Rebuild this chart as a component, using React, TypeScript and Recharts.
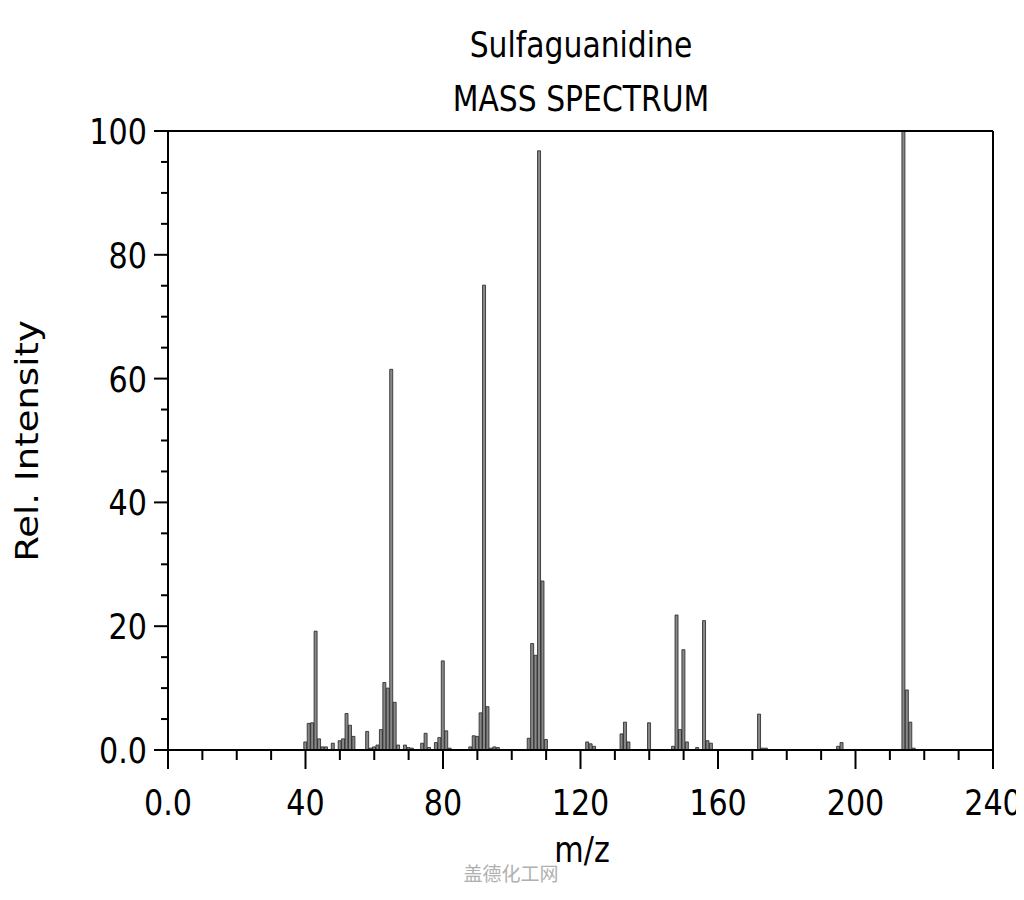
import { Bar, ComposedChart, ReferenceLine, XAxis, YAxis } from 'recharts'

// peaks: m/z and relative intensity
const mzValues = [
  40, 41, 42, 43, 44, 45, 46, 48, 50, 51, 52, 53, 54, 58, 59, 60, 61, 62, 63, 64, 65, 66, 67, 69, 70, 71,
  74, 75, 76, 78, 79, 80, 81, 82, 88, 89, 90, 91, 92, 93, 94, 95, 96, 105, 106, 107, 108, 109, 110,
  122, 123, 124, 132, 133, 134, 140, 147, 148, 149, 150, 151, 154, 156, 157, 158, 172, 173, 174,
  195, 196, 214, 215, 216, 217,
]
const intensities = [
  1.3, 4.3, 4.4, 19.2, 1.8, 0.5, 0.5, 1.1, 1.5, 1.8, 5.9, 4.0, 2.2, 3.0, 0.3, 0.5, 0.8, 3.3, 10.9, 10.0, 61.5, 7.7, 0.8, 0.8, 0.4, 0.3,
  1.1, 2.7, 0.4, 1.2, 2.0, 14.4, 3.1, 0.3, 0.5, 2.3, 2.2, 6.0, 75.1, 7.0, 0.3, 0.5, 0.4, 1.9, 17.2, 15.3, 96.8, 27.3, 1.7,
  1.3, 1.0, 0.6, 2.6, 4.5, 1.3, 4.4, 0.6, 21.8, 3.3, 16.2, 1.3, 0.4, 20.9, 1.5, 1.1, 5.8, 0.3, 0.3,
  0.6, 1.2, 100, 9.7, 4.5, 0.3,
]

const xTicks = [0, 10, 20, 30, 40, 50, 60, 70, 80, 90, 100, 110, 120, 130, 140, 150, 160, 170, 180, 190, 200, 210, 220, 230, 240]
const xMajor = [0, 40, 80, 120, 160, 200, 240]
const yTicks = [0, 5, 10, 15, 20, 25, 30, 35, 40, 45, 50, 55, 60, 65, 70, 75, 80, 85, 90, 95, 100]
const yMajor = [0, 20, 40, 60, 80, 100]

const font = '"DejaVu Sans", sans-serif'

const fmt = (v: number) => (v === 0 ? '0.0' : String(v))

function XTick({ x, y, payload }: any) {
  const major = xMajor.includes(payload.value)
  return (
    <g>
      <line x1={x} x2={x} y1={y} y2={y + (major ? 19 : 10)} stroke="#000" strokeWidth={2} />
      {major && (
        <text
          transform={`translate(${x},${y + 65}) scale(0.84,1)`}
          textAnchor="middle"
          fontSize={36}
          fontFamily={font}
          fill="#000"
        >
          {fmt(payload.value)}
        </text>
      )}
    </g>
  )
}

function YTick({ x, y, payload }: any) {
  const major = yMajor.includes(payload.value)
  return (
    <g>
      <line x1={x - (major ? 14 : 7)} x2={x} y1={y} y2={y} stroke="#000" strokeWidth={2} />
      {major && (
        <text
          transform={`translate(${x - 21},${y + 13}) scale(0.84,1)`}
          textAnchor="end"
          fontSize={36}
          fontFamily={font}
          fill="#000"
        >
          {fmt(payload.value)}
        </text>
      )}
    </g>
  )
}

export default function App() {
  const data = mzValues.map((mz, i) => ({ mz, intensity: intensities[i] }))

  const textBase = {
    position: 'absolute' as const,
    fontFamily: font,
    color: '#000',
    lineHeight: 1,
    whiteSpace: 'nowrap' as const,
    textAlign: 'center' as const,
  }

  return (
    <div style={{ position: 'relative', width: 1016, height: 884, background: '#fff' }}>
      <div style={{ ...textBase, left: 273, top: 19, width: 600, fontSize: 35.5, transform: 'scaleX(0.84)' }}>
        Sulfaguanidine
      </div>
      <div style={{ ...textBase, left: 273, top: 73, width: 600, fontSize: 35.5, transform: 'scaleX(0.84)' }}>
        MASS SPECTRUM
      </div>
      <div
        style={{
          ...textBase,
          left: -130,
          top: 413,
          width: 300,
          height: 40,
          lineHeight: '40px',
          fontSize: 37,
          transform: 'rotate(-90deg) scaleY(0.84)',
        }}
      >
        Rel. Intensity
      </div>
      <div style={{ ...textBase, left: 474, top: 824, width: 200, fontSize: 36, transform: 'scaleX(0.84)' }}>
        m/z
      </div>
      <div
        style={{
          ...textBase,
          left: 403,
          top: 855,
          width: 200,
          fontSize: 19,
          color: '#b0b0b0',
          fontFamily: '"Noto Sans CJK SC", sans-serif',
        }}
      >
        盖德化工网
      </div>

      <ComposedChart width={1016} height={884} data={data} margin={{ top: 123, right: 31, bottom: 82, left: 100 }}>
        <XAxis
          dataKey="mz"
          type="number"
          domain={[0, 240]}
          ticks={xTicks}
          interval={0}
          height={60}
          tickSize={0}
          tickMargin={0}
          tickLine={false}
          tick={<XTick />}
          axisLine={{ stroke: '#000', strokeWidth: 2 }}
        />
        <YAxis
          type="number"
          domain={[0, 100]}
          ticks={yTicks}
          interval={0}
          width={60}
          tickSize={0}
          tickMargin={0}
          tickLine={false}
          tick={<YTick />}
          axisLine={{ stroke: '#000', strokeWidth: 2 }}
        />
        <ReferenceLine y={100} stroke="#000" strokeWidth={2} />
        <ReferenceLine x={240} stroke="#000" strokeWidth={2} />
        <Bar dataKey="intensity" barSize={3} fill="#888" stroke="#222" strokeWidth={0.8} isAnimationActive={false} />
      </ComposedChart>
    </div>
  )
}
